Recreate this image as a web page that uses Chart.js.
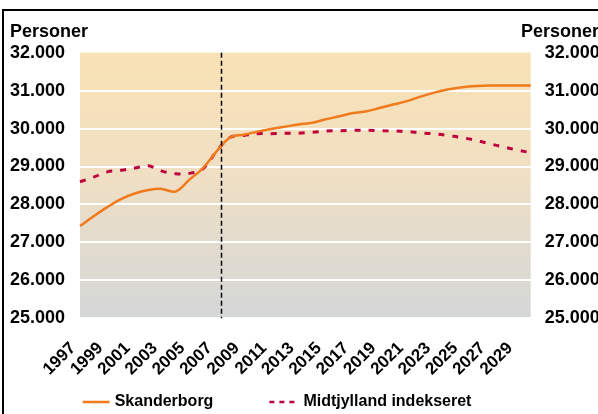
<!DOCTYPE html>
<html>
<head>
<meta charset="utf-8">
<script src="https://cdn.jsdelivr.net/npm/chart.js@4/dist/chart.umd.min.js"></script>
<style>
  html, body { margin: 0; padding: 0; background: #fff; overflow: hidden; width: 598px; height: 414px; }
  #frame { position: absolute; left: 2px; top: 9px; border-left: 2px solid #000; border-top: 2px solid #000; }
  canvas { display: block; }
</style>
</head>
<body>
<div id="frame"><canvas id="c" width="640" height="420"></canvas></div>
<script>
const years = ['1997','1998','1999','2000','2001','2002','2003','2004','2005','2006','2007','2008',
  '2009','2010','2011','2012','2013','2014','2015','2016','2017','2018',
  '2019','2020','2021','2022','2023','2024','2025','2026','2027','2028','2029','2030'];
const skanderborg = [27430, 27690, 27930, 28140, 28290, 28380, 28410, 28340, 28650, 28960, 29400, 29770,
  29840, 29920, 29990, 30050, 30110, 30155, 30245, 30325, 30410, 30455,
  30550, 30640, 30730, 30850, 30955, 31035, 31090, 31120, 31135, 31135, 31135, 31135];
const midtjylland = [28600, 28720, 28860, 28900, 28960, 29020, 28880, 28810, 28820, 28940, 29400, 29770,
  29820, 29865, 29865, 29875, 29880, 29900, 29935, 29945, 29955, 29960,
  29945, 29935, 29925, 29885, 29860, 29815, 29760, 29690, 29600, 29515, 29435, 29365];
const seriesNames = ['Skanderborg', 'Midtjylland indekseret'];
const axisTitle = 'Personer';
const yMin = 25000, yMax = 32000, yStep = 1000;
const forecastMarker = 10.33; // category position of the vertical dashed marker (between 2007 and 2008)

const FONT = '"Liberation Sans", Arial, sans-serif';
const fmt = v => String(v).replace(/\B(?=(\d{3})+(?!\d))/g, '.');

const bgPlugin = {
  id: 'bg',
  beforeDraw(chart) {
    const {ctx, chartArea: a} = chart;
    const g = ctx.createLinearGradient(0, a.top, 0, a.bottom);
    g.addColorStop(0, '#f9e2b4');
    g.addColorStop(0.45, '#f0dfc3');
    g.addColorStop(1, '#d4d7d8');
    ctx.save();
    ctx.fillStyle = g;
    ctx.fillRect(a.left, a.top, a.right - a.left, a.bottom - a.top);
    ctx.restore();
  }
};

const markerPlugin = {
  id: 'marker',
  afterDatasetsDraw(chart) {
    const {ctx, chartArea: a, scales} = chart;
    const x = Math.round(scales.x.getPixelForValue(forecastMarker)) + 0.5;
    ctx.save();
    ctx.strokeStyle = '#000';
    ctx.lineWidth = 1.5;
    ctx.setLineDash([5, 3]);
    ctx.beginPath();
    ctx.moveTo(x, a.top);
    ctx.lineTo(x, a.bottom);
    ctx.stroke();
    ctx.restore();
  }
};

const titlePlugin = {
  id: 'axTitles',
  afterDraw(chart) {
    const {ctx, scales} = chart;
    ctx.save();
    ctx.font = 'bold 18px ' + FONT;
    ctx.fillStyle = '#000';
    ctx.textBaseline = 'middle';
    ctx.textAlign = 'left';
    ctx.fillText(axisTitle, 6, 21);
    ctx.fillText(axisTitle, scales.y2.left - 9.7, 21);
    ctx.restore();
  }
};

// legend drawn from the datasets' own labels and styles
const legendPlugin = {
  id: 'customLegend',
  afterDraw(chart) {
    const {ctx} = chart;
    const y = 391, sample = 27, textGap = 5, itemGap = 56;
    let x = 78.7;
    ctx.save();
    ctx.font = 'bold 16px ' + FONT;
    ctx.textBaseline = 'middle';
    ctx.textAlign = 'left';
    chart.data.datasets.forEach((ds, i) => {
      ctx.strokeStyle = ds.borderColor;
      ctx.lineWidth = 2.5;
      ctx.setLineDash(ds.borderDash ? [5, 5] : []);
      ctx.beginPath();
      ctx.moveTo(x, y);
      ctx.lineTo(x + sample, y);
      ctx.stroke();
      ctx.setLineDash([]);
      const tx = x + sample + (i === 0 ? textGap : textGap + 2);
      ctx.fillStyle = '#000';
      ctx.fillText(ds.label, tx, y);
      x = tx + ctx.measureText(ds.label).width + itemGap;
    });
    ctx.restore();
  }
};

const yAxisBase = {
  min: yMin, max: yMax,
  border: { display: false },
  grid: {
    drawTicks: false,
    color: ctx => ctx.tick && ctx.tick.value === yMax ? 'rgba(0,0,0,0)' : '#ffffff',
    lineWidth: 2
  },
  ticks: {
    stepSize: yStep,
    padding: 15,
    color: '#000',
    font: { family: FONT, size: 18, weight: 'bold' },
    callback: v => fmt(v)
  }
};

new Chart(document.getElementById('c'), {
  type: 'line',
  data: {
    labels: years,
    datasets: [
      {
        label: seriesNames[0],
        data: skanderborg,
        borderColor: '#f07a1c',
        backgroundColor: '#f07a1c',
        borderWidth: 2.5,
        pointRadius: 0,
        tension: 0.35
      },
      {
        label: seriesNames[1],
        data: midtjylland,
        borderColor: '#be003c',
        backgroundColor: '#be003c',
        borderWidth: 3,
        borderDash: [6, 8],
        pointRadius: 0,
        tension: 0.35
      }
    ]
  },
  options: {
    responsive: false,
    animation: false,
    devicePixelRatio: 1,
    layout: { padding: { left: 0, top: 41.7, right: 0, bottom: 52.7 } },
    plugins: {
      tooltip: { enabled: false },
      legend: { display: false }
    },
    scales: {
      x: {
        type: 'category',
        offset: false,
        border: { display: false },
        grid: { display: false },
        afterFit: s => { s.height = 60; },
        ticks: {
          autoSkip: false,
          maxRotation: 45,
          minRotation: 45,
          padding: 12,
          labelOffset: -7,
          color: '#000',
          font: { family: FONT, size: 17, weight: 'bold' },
          callback: (v, i) => (i % 2 === 0 ? years[i] : '')
        }
      },
      y: Object.assign({}, yAxisBase, { position: 'left', afterFit: s => { s.width = 76; } }),
      y2: Object.assign({}, yAxisBase, {
        position: 'right',
        afterFit: s => { s.width = 113.3; },
        grid: { display: false, drawTicks: false },
        ticks: Object.assign({}, yAxisBase.ticks, { padding: 14 })
      })
    }
  },
  plugins: [bgPlugin, markerPlugin, titlePlugin, legendPlugin]
});
</script>
</body>
</html>
